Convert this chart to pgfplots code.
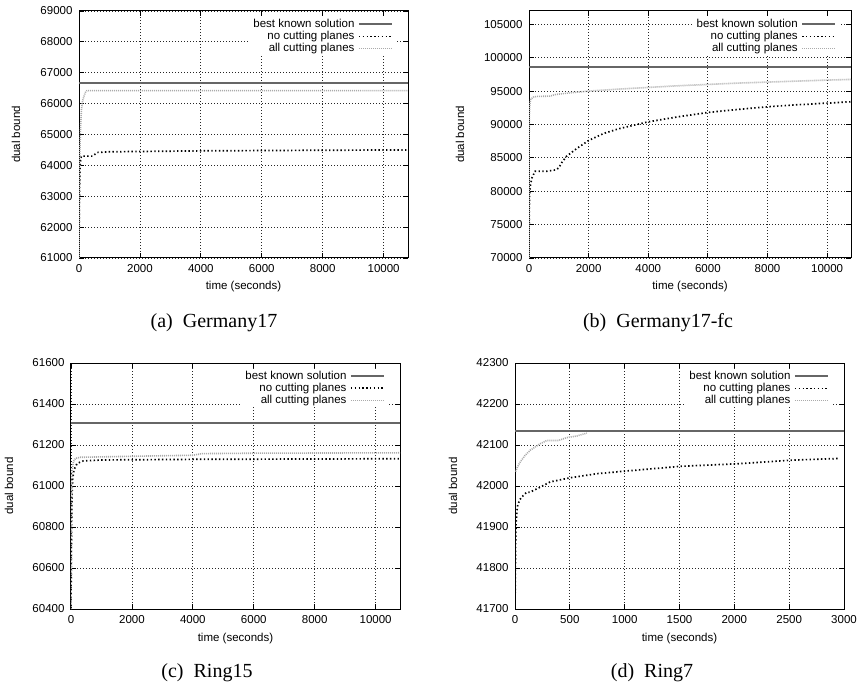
\documentclass[border=0pt]{standalone}
\usepackage{fontspec}
\setmainfont{Liberation Serif}
\newfontfamily\gpfont{Liberation Sans}
\usepackage{pgfplots}
\pgfplotsset{compat=1.18}
\definecolor{bestc}{HTML}{666666}
\definecolor{allc}{HTML}{AAAAAA}
\pgfplotsset{
 gp/.style={
  scale only axis, xmin=0,
  tick align=inside, tick pos=both,
  major tick length=5pt,
  grid=major,
  major grid style={black!85, line width=0.8pt, dash pattern=on 1pt off 2pt},
  axis line style={black, line width=1pt},
  every tick/.style={black, line width=0.8pt},
  ticklabel style={font=\gpfont\fontsize{11.5}{12}\selectfont},
  xticklabel style={yshift=-3pt},
  yticklabel style={xshift=-3pt},
  /pgf/number format/assume math mode=true,
  /pgf/number format/fixed,
  /pgf/number format/1000 sep={},
  scaled ticks=false,
  xlabel={time (seconds)}, ylabel={dual bound},
  label style={font=\gpfont\fontsize{11.5}{12}\selectfont},
  legend plot pos=right,
  legend cell align=right,
  legend style={draw=none, fill=white, font=\gpfont\fontsize{11.5}{12}\selectfont,
    inner xsep=4pt, inner ysep=1pt, at={(0.967,0.975)}, anchor=north east,
    row sep=0pt, column sep=3pt,
    nodes={inner sep=0.5pt, text height=8.5pt, text depth=2.5pt}},
  legend image code/.code={\draw[#1] (0pt,0pt) -- (33pt,0pt);},
  every axis plot/.append style={line join=round},
 },
 best/.style={color=bestc, line width=2pt},
 nocut/.style={black, line width=1.7pt, dash pattern=on 1.4pt off 2.4pt},
 allcut/.style={allc, line width=1.6pt, dash pattern=on 1pt off 1pt},
}
\begin{document}
\begin{tikzpicture}[x=1pt,y=1pt]
\useasboundingbox (0,0) rectangle (859,683);
% (a) Germany17
\begin{axis}[gp, at={(79pt,425pt)}, anchor=south west, width=329pt, height=247pt,
  xmax=10800, ymin=61000, ymax=69000,
  xtick={0,2000,...,10000}, ytick={61000,62000,...,69000},
  xlabel style={at={(axis description cs:0.5,-0.1174)}, anchor=center},
  ylabel style={at={(axis description cs:-0.1915,0.5)}, anchor=center}]
\addplot[best] coordinates {(0,66680) (10800,66680)};
\addlegendentry{best known solution}
\addplot[nocut] coordinates {(0,60800) (5,62000) (15,63000) (30,63800) (50,64200) (80,64300) (450,64300) (600,64420) (1000,64440) (2000,64450) (4000,64470) (6000,64480) (8000,64490) (10800,64500)};
\addlegendentry{no cutting planes}
\addplot[allcut] coordinates {(0,60800) (10,63000) (30,64500) (50,65200) (80,65800) (120,66100) (200,66350) (260,66420) (10800,66420)};
\addlegendentry{all cutting planes}
\end{axis}
% (b) Germany17-fc
\begin{axis}[gp, at={(529pt,425pt)}, anchor=south west, width=322pt, height=247pt,
  xmax=10800, ymin=70000, ymax=107000,
  xtick={0,2000,...,10000}, ytick={70000,75000,...,105000},
  xlabel style={at={(axis description cs:0.5,-0.1174)}, anchor=center},
  ylabel style={at={(axis description cs:-0.2143,0.5)}, anchor=center}]
\addplot[best] coordinates {(0,98600) (10800,98600)};
\addlegendentry{best known solution}
\addplot[nocut] coordinates {(0,70000) (3,74000) (8,77000) (20,79500) (50,81000) (100,82000) (200,83000) (600,83000) (900,83200) (1000,83500) (1100,84300) (1250,85200) (1600,86400) (2000,87600) (2500,88650) (3000,89350) (4000,90400) (5000,91150) (6000,91800) (7000,92250) (8000,92650) (9000,92950) (10000,93200) (10800,93400)};
\addlegendentry{no cutting planes}
\addplot[allcut] coordinates {(0,70000) (2,80000) (5,88000) (10,91000) (25,93000) (60,93800) (150,94100) (250,94200) (700,94250) (900,94500) (1500,94800) (2000,95000) (3000,95300) (4000,95550) (5000,95800) (6000,96000) (7000,96200) (8000,96350) (9000,96500) (10000,96650) (10800,96750)};
\addlegendentry{all cutting planes}
\end{axis}
% (c) Ring15
\begin{axis}[gp, at={(71pt,74pt)}, anchor=south west, width=329pt, height=246pt,
  xmax=10800, ymin=60400, ymax=61600,
  xtick={0,2000,...,10000}, ytick={60400,60600,...,61600},
  xlabel style={at={(axis description cs:0.5,-0.122)}, anchor=center},
  ylabel style={at={(axis description cs:-0.1884,0.5)}, anchor=center}]
\addplot[best] coordinates {(0,61305) (10800,61305)};
\addlegendentry{best known solution}
\addplot[nocut] coordinates {(0,60400) (10,60650) (25,60900) (50,61030) (100,61080) (200,61110) (400,61122) (1000,61127) (4000,61130) (10800,61133)};
\addlegendentry{no cutting planes}
\addplot[allcut] coordinates {(0,60400) (10,60700) (20,61000) (40,61080) (80,61120) (150,61135) (300,61140) (2000,61145) (4000,61150) (4300,61158) (6000,61160) (10800,61162)};
\addlegendentry{all cutting planes}
\end{axis}
% (d) Ring7
\begin{axis}[gp, at={(515pt,74pt)}, anchor=south west, width=329pt, height=246pt,
  xmax=3000, ymin=41700, ymax=42300,
  xtick={0,500,...,3000}, ytick={41700,41800,...,42300},
  xlabel style={at={(axis description cs:0.5,-0.122)}, anchor=center},
  ylabel style={at={(axis description cs:-0.1884,0.5)}, anchor=center}]
\addplot[best] coordinates {(0,42135) (3000,42135)};
\addlegendentry{best known solution}
\addplot[nocut] coordinates {(0,41700) (5,41850) (10,41910) (21,41949) (40,41965) (61,41973) (107,41985) (137,41985) (229,41997) (320,42010) (503,42020) (747,42030) (991,42036) (1250,42042) (1509,42048) (2012,42054) (2515,42063) (2942,42067)};
\addlegendentry{no cutting planes}
\addplot[allcut] coordinates {(5,42035) (20,42045) (46,42058) (90,42074) (137,42087) (229,42103) (290,42111) (396,42111) (472,42118) (564,42122) (655,42129)};
\addlegendentry{all cutting planes}
\end{axis}
\node[anchor=base, font=\fontsize{20}{24}\selectfont] at (214,355) {(a)\ \ Germany17};
\node[anchor=base, font=\fontsize{20}{24}\selectfont] at (658,355) {(b)\ \ Germany17-fc};
\node[anchor=base, font=\fontsize{20}{24}\selectfont] at (207,6) {(c)\ \ Ring15};
\node[anchor=base, font=\fontsize{20}{24}\selectfont] at (652,6) {(d)\ \ Ring7};
\end{tikzpicture}
\end{document}
